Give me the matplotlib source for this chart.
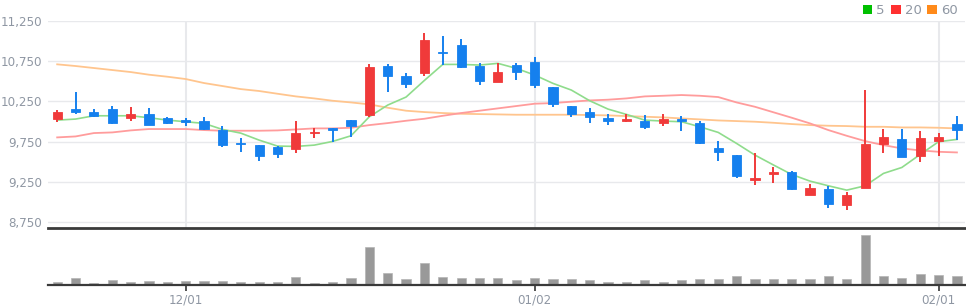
import matplotlib
matplotlib.use("Agg")
import matplotlib.pyplot as plt
from matplotlib.ticker import FuncFormatter
from matplotlib.patches import Rectangle
import numpy as np

# ---- data ----
opens = [10034, 10150, 10113, 10150, 10047, 10088, 10038, 10017, 10009, 9897,
         9731, 9706, 9681, 9661, 9856, 9914, 10017, 10080, 10694, 10565,
         10607, 10868, 10955, 10694, 10495, 10706, 10735, 10432, 10192, 10113,
         10038, 10005, 10005, 9984, 10030, 9984, 9665, 9582, 9279, 9349,
         9374, 9084, 9163, 8959, 9175, 9719, 9777, 9569, 9756, 9964]
highs = [10142, 10362, 10154, 10192, 10175, 10163, 10055, 10038, 10051, 9943,
         9798, 9706, 9694, 10009, 9914, 9914, 10017, 10710, 10719, 10603,
         11101, 11063, 11026, 10723, 10723, 10723, 10802, 10432, 10192, 10171,
         10096, 10088, 10080, 10092, 10067, 10005, 9756, 9582, 9602, 9436,
         9387, 9217, 9192, 9125, 10391, 9906, 9906, 9885, 9852, 10072]
lows = [9988, 10096, 10059, 9972, 10005, 9951, 9963, 9943, 9889, 9685,
        9623, 9507, 9549, 9602, 9798, 9748, 9810, 10055, 10370, 10420,
        10565, 10702, 10669, 10449, 10495, 10511, 10412, 10179, 10059, 9984,
        9955, 9997, 9901, 9947, 9880, 9719, 9511, 9291, 9204, 9229,
        9142, 9084, 8918, 8905, 9175, 9603, 9553, 9499, 9569, 9768]
closes = [10113, 10121, 10067, 9984, 10088, 9959, 9976, 10004, 9910, 9710,
          9719, 9565, 9598, 9860, 9872, 9893, 9947, 10677, 10561, 10470,
          11009, 10847, 10681, 10507, 10611, 10611, 10457, 10213, 10088, 10051,
          10009, 10030, 9930, 10026, 10009, 9727, 9615, 9324, 9291, 9362,
          9154, 9167, 8968, 9084, 9715, 9802, 9561, 9789, 9802, 9889]
ma5 = [10017, 10030, 10071, 10071, 10071, 10047, 10017, 9997, 9976, 9901,
       9855, 9768, 9694, 9690, 9706, 9752, 9822, 10059, 10204, 10304,
       10511, 10710, 10710, 10702, 10723, 10661, 10578, 10474, 10391, 10258,
       10154, 10088, 10017, 10005, 9997, 9934, 9864, 9727, 9582, 9460,
       9341, 9258, 9200, 9146, 9200, 9354, 9428, 9590, 9748, 9777]
ma20 = [9802, 9814, 9856, 9864, 9889, 9906, 9906, 9906, 9893, 9885,
        9885, 9885, 9889, 9901, 9914, 9914, 9922, 9955, 9980, 10009,
        10034, 10071, 10105, 10134, 10163, 10192, 10221, 10229, 10246, 10262,
        10271, 10287, 10312, 10320, 10329, 10320, 10304, 10237, 10183, 10115,
        10047, 9976, 9893, 9822, 9756, 9706, 9665, 9640, 9623, 9615]
ma60 = [10711, 10690, 10665, 10640, 10615, 10582, 10557, 10528, 10478, 10441,
        10403, 10379, 10345, 10312, 10287, 10258, 10237, 10213, 10171, 10134,
        10117, 10105, 10096, 10092, 10088, 10084, 10084, 10084, 10084, 10080,
        10076, 10067, 10059, 10051, 10038, 10026, 10013, 10005, 9997, 9984,
        9968, 9955, 9947, 9943, 9934, 9934, 9926, 9926, 9922, 9914]
volume = [10, 20, 7, 15, 10, 12, 10, 12, 12, 12,
          10, 10, 8, 24, 5, 10, 20, 114, 35, 17,
          65, 24, 20, 20, 22, 14, 20, 17, 17, 14,
          10, 8, 14, 10, 14, 19, 19, 26, 19, 17,
          19, 17, 26, 19, 150, 26, 22, 33, 30, 26]
tick_idx = [7, 26, 48]
tick_labels = ["12/01", "01/02", "02/01"]
price_ticks = [8750, 9250, 9750, 10250, 10750, 11250]
legend_labels = ["5", "20", "60"]

# ---- style ----
RED = "#f03a3a"
BLUE = "#1580ee"
GRID = "#e8e9ec"
TXT = "#8f97a3"
W, H = 966, 307

fig = plt.figure(figsize=(W / 100, H / 100), dpi=100)
left, right = 48 / W, 965 / W
ax = fig.add_axes([left, 1 - 228 / H, right - left, (228 - 21) / H])
axv = fig.add_axes([left, 1 - 285 / H, right - left, (285 - 228) / H], sharex=ax)

x = np.arange(len(opens))
o = np.array(opens); c = np.array(closes)
hi = np.array(highs); lo = np.array(lows)
up = c >= o
cols = np.where(up, RED, BLUE)

ax.set_xlim(-0.5, 49.44)
ax.set_ylim(8675, 11250)

# grid
for p in price_ticks:
    ax.axhline(p, color=GRID, lw=1.0, zorder=0)
for t in tick_idx:
    ax.axvline(t, color=GRID, lw=1.5, zorder=0)

# MA lines
ax.plot(x, ma60, color="#ffc58e", lw=1.3, zorder=2)
ax.plot(x, ma20, color="#ff9c9c", lw=1.3, zorder=2)
ax.plot(x, ma5, color="#8fdc8c", lw=1.2, zorder=2)

# candles
ax.vlines(x, lo, hi, colors=cols, lw=1.4, zorder=3)
diff = np.abs(c - o)
body_h = np.maximum(diff, 22)
body_bottom = np.minimum(o, c) - np.where(diff < 22, (22 - diff) / 2, 0)
ax.bar(x, body_h, bottom=body_bottom, width=0.5, color=cols, edgecolor=cols,
       linewidth=0.6, zorder=4)

for s in ax.spines.values():
    s.set_visible(False)
ax.set_yticks(price_ticks)
ax.yaxis.set_major_formatter(FuncFormatter(lambda v, _: f"{int(v):,}"))
ax.tick_params(axis="y", length=0, pad=4, labelsize=8.6, labelcolor=TXT)
ax.tick_params(axis="x", length=0, labelbottom=False)

# volume
axv.bar(x, volume, width=0.5, color="#999999", edgecolor="#b5b5b5", linewidth=0.5, zorder=2)
axv.set_ylim(0, 171)
axv.set_yticks([])
for k in ["left", "right"]:
    axv.spines[k].set_visible(False)
axv.spines["top"].set_color("#3a3a3a")
axv.spines["top"].set_linewidth(2.0)
axv.spines["bottom"].set_color("#3a3a3a")
axv.spines["bottom"].set_linewidth(1.6)
axv.set_xticks(tick_idx)
axv.set_xticklabels(tick_labels)
axv.tick_params(axis="x", length=4, width=1.2, color="#333333", labelsize=8.6,
                labelcolor=TXT, pad=2)

# legend (top right)
leg_cols = ["#00c000", "#ff3030", "#ff8a1a"]
handles = [Rectangle((0, 0), 1, 1, facecolor=col, edgecolor="none") for col in leg_cols]
fig.legend(handles, legend_labels, loc="upper right", bbox_to_anchor=(966 / W, 1.012),
           ncol=3, frameon=False, fontsize=9.5, labelcolor=TXT, handlelength=0.75,
           handleheight=0.75, handletextpad=0.3, columnspacing=0.45, borderaxespad=0.2)

fig.savefig("out.png", dpi=100)
